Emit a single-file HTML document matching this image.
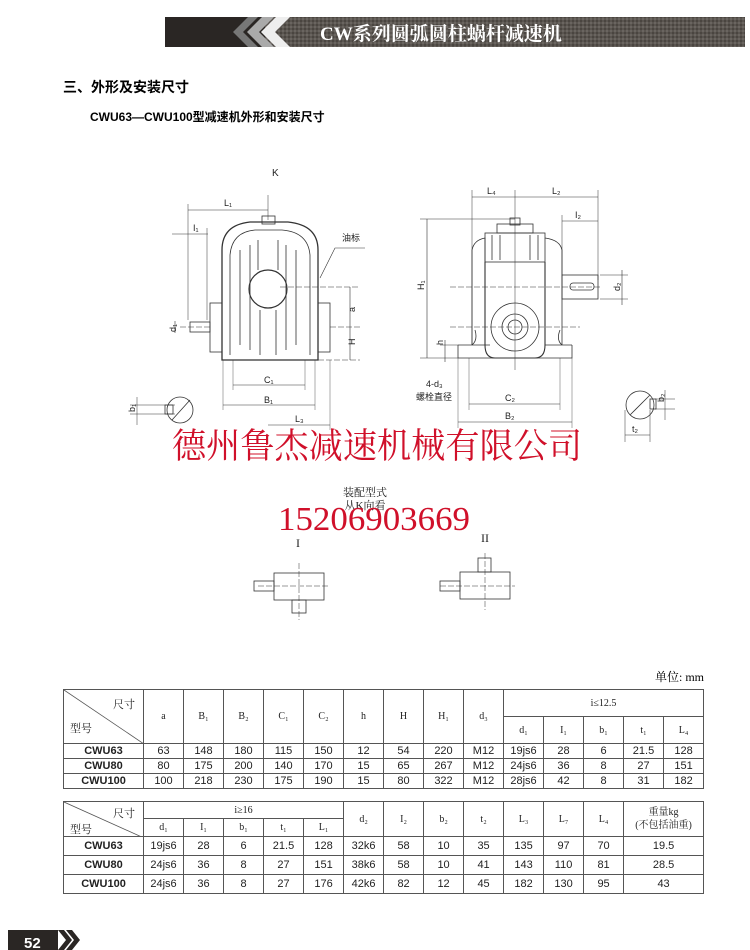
<!DOCTYPE html>
<html><head><meta charset="utf-8"><style>
body{margin:0;background:#fff;}
#p{position:relative;width:750px;height:950px;overflow:hidden;background:#fff;font-family:"Liberation Sans","Noto Sans CJK SC",sans-serif;}
.abs{position:absolute;white-space:nowrap;}
table{border-collapse:collapse;position:absolute;font-size:11px;color:#222;table-layout:fixed;}
td{border:1px solid #555;text-align:center;padding:0;overflow:hidden;white-space:nowrap;}
.s{font-family:"Liberation Serif","Noto Serif CJK SC",serif;font-size:10px;}
.b{font-weight:bold;}
</style></head><body><div id="p">
<svg width="750" height="950" style="position:absolute;left:0;top:0">
<defs><pattern id="tx" width="4" height="4" patternUnits="userSpaceOnUse"><rect width="4" height="4" fill="#5a5550"/><rect width="2" height="2" fill="#4a4540"/><rect x="2" y="2" width="2" height="2" fill="#6a6560"/></pattern></defs>
<rect x="165" y="17" width="580" height="30" fill="url(#tx)"/>
<rect x="165" y="17" width="100" height="30" fill="#2a2624"/>
<polygon points="248,17 258,17 243,32 258,47 248,47 233,32" fill="#777"/>
<polygon points="262,17 274,17 259,32 274,47 262,47 247,32" fill="#aaa"/>
<polygon points="276,17 290,17 275,32 290,47 276,47 261,32" fill="#eee"/>
<rect x="8" y="930" width="50" height="20" fill="#2a2624"/>
<polygon points="58,930 64,930 72,940 64,950 58,950 66,940" fill="#2a2624"/>
<polygon points="66,930 72,930 80,940 72,950 66,950 74,940" fill="#2a2624"/>
<g stroke="#333" stroke-width="0.8" fill="none">
<path d="M222,360 L222,250 Q222,225 250,222 L288,222 Q318,225 318,250 L318,360 Z" stroke-width="1.3"/>
<path d="M230,355 L230,255 Q232,232 255,230 L282,230 Q308,232 310,255 L310,355"/>
<rect x="262" y="216" width="13" height="8"/>
<rect x="210" y="303" width="12" height="49"/><rect x="318" y="303" width="12" height="49"/>
<rect x="190" y="322" width="20" height="10"/>
<circle cx="268" cy="289" r="19" stroke-width="1.2"/>
<path d="M240,250 V345 M250,245 V350 M258,240 V270 M278,240 V270 M286,245 V350 M296,250 V345 M260,310 V355 M276,310 V355"/>
<line x1="222" y1="360" x2="318" y2="360"/>
<path d="M188,204 V320 M207,228 V320 M268,195 V220" stroke-width="0.5"/>
<path d="M188,210 H268 M172,234 H208 M350,287 V360 M233,385 H305 M223,405 H315 M268,425 H330 M175,321 V333" stroke-width="0.6"/>
<path d="M280,287 H360 M318,360 H360 M330,327 H360 M180,327 H210" stroke-width="0.5" stroke-dasharray="6,2"/>
<path d="M233,360 V390 M305,360 V390 M223,360 V410 M315,360 V410 M330,360 V430" stroke-width="0.4"/>
<path d="M320,278 L335,248 L365,248" stroke-width="0.6"/>
<circle cx="180" cy="410" r="13"/><line x1="172" y1="420" x2="190" y2="400"/><rect x="165" y="405" width="8" height="9"/>
<path d="M137,397 V425 M130,405 H175 M130,414 H175" stroke-width="0.5"/>
<path d="M472,345 V250 Q474,240 485,238 V262 M562,345 V250 Q560,240 545,238"/>
<rect x="485" y="233" width="60" height="29"/>
<path d="M485,262 V345 Q485,358 495,358 H535 Q545,358 545,345 V262" stroke-width="1.1"/>
<rect x="497" y="224" width="36" height="9"/><rect x="510" y="218" width="10" height="7"/>
<path d="M492,235 V260 M500,235 V260 M530,235 V260 M538,235 V260"/>
<circle cx="515" cy="327" r="24"/><circle cx="515" cy="327" r="7"/><circle cx="515" cy="327" r="13"/>
<path d="M458,345 H490 M545,345 H572 M458,345 V358 H572 V345 M472,345 Q478,340 475,330 M562,345 Q556,340 560,330"/>
<rect x="562" y="275" width="36" height="24"/><rect x="570" y="283" width="24" height="7" rx="3"/>
<path d="M472,190 V345 M515,190 V370 M598,190 V280 M562,215 V275" stroke-width="0.5"/>
<path d="M472,197 H598 M562,221 H598 M427,219 V358 M445,340 V362 M622,270 V305 M469,404 H560 M458,422 H572" stroke-width="0.6"/>
<path d="M420,219 H515 M420,358 H458 M600,275 H628 M600,299 H628 M440,345 H458" stroke-width="0.5"/>
<path d="M450,287 H600 M450,327 H580" stroke-width="0.5" stroke-dasharray="6,2"/>
<path d="M469,358 V410 M560,358 V410 M458,358 V428 M572,358 V428" stroke-width="0.4"/>
<circle cx="640" cy="405" r="14"/><line x1="630" y1="415" x2="650" y2="395"/><rect x="650" y="399" width="6" height="10"/>
<path d="M665,390 V420 M655,399 H675 M655,409 H675 M625,410 V442 M650,410 V442 M625,435 H650" stroke-width="0.5"/>
<rect x="274" y="573" width="50" height="27"/><rect x="254" y="581" width="20" height="10"/><rect x="292" y="600" width="14" height="13"/>
<rect x="460" y="572" width="50" height="27"/><rect x="440" y="581" width="20" height="10"/><rect x="478" y="558" width="13" height="14"/>
<path d="M299,563 V620 M258,586 H330 M485,553 V610 M440,586 H515" stroke-width="0.5" stroke-dasharray="6,2"/>
</g>
<g font-family="Liberation Sans,sans-serif" font-size="9" fill="#222">
<text x="272" y="176" font-size="10">K</text>
<text x="224" y="206">L₁</text><text x="193" y="231">I₁</text>
<text x="342" y="241" font-family="Noto Sans CJK SC,sans-serif">油标</text>
<text x="355" y="312" transform="rotate(-90 355 312)">a</text>
<text x="355" y="345" transform="rotate(-90 355 345)">H</text>
<text x="176" y="332" transform="rotate(-90 176 332)">d₁</text>
<text x="264" y="383">C₁</text><text x="264" y="403">B₁</text><text x="295" y="422">L₃</text>
<text x="135" y="412" transform="rotate(-90 135 412)">b₁</text>
<text x="487" y="194">L₄</text><text x="552" y="194">L₂</text><text x="575" y="218">I₂</text>
<text x="424" y="290" transform="rotate(-90 424 290)">H₁</text>
<text x="443" y="345" transform="rotate(-90 443 345)">h</text>
<text x="620" y="291" transform="rotate(-90 620 291)">d₂</text>
<text x="426" y="387">4-d₃</text>
<text x="416" y="400" font-family="Noto Sans CJK SC,sans-serif">螺栓直径</text>
<text x="505" y="401">C₂</text><text x="505" y="419">B₂</text>
<text x="664" y="402" transform="rotate(-90 664 402)">b₂</text><text x="632" y="432">t₂</text>
</g>
<g font-family="Liberation Serif,Noto Serif CJK SC,serif" fill="#222">
<text x="365" y="496" font-size="11" text-anchor="middle">装配型式</text>
<text x="365" y="509" font-size="11" text-anchor="middle">从K向看</text>
<text x="298" y="547" font-size="12" text-anchor="middle">I</text>
<text x="485" y="542" font-size="12" text-anchor="middle">II</text>
</g>
<text x="320" y="40" font-family="Liberation Serif,Noto Serif CJK SC,serif" font-size="19" fill="#fff" font-weight="bold">CW系列圆弧圆柱蜗杆减速机</text>
<text x="24" y="948" font-family="Liberation Sans,sans-serif" font-size="15" fill="#fff" font-weight="bold">52</text>
<text x="172" y="458" font-family="Noto Serif CJK SC,serif" font-size="35" fill="#d0102a" textLength="410" lengthAdjust="spacingAndGlyphs">德州鲁杰减速机械有限公司</text>
<text x="278" y="530" font-family="Liberation Serif,serif" font-size="34" fill="#d0102a" textLength="192" lengthAdjust="spacingAndGlyphs">15206903669</text>
</svg>
<div class="abs b" style="left:63px;top:77px;font-size:14px;font-family:'Liberation Sans','Noto Sans CJK SC',sans-serif">三、外形及安装尺寸</div>
<div class="abs b" style="left:90px;top:108px;font-size:12px;font-family:'Liberation Sans','Noto Sans CJK SC',sans-serif">CWU63—CWU100型减速机外形和安装尺寸</div>
<div class="abs s" style="left:655px;top:668px;font-size:12px">单位: mm</div>
<table style="left:63px;top:689px;width:640px;">
<colgroup><col style="width:80px"><col span="14" style="width:40px"></colgroup>
<tr style="height:27px"><td rowspan="2" style="position:relative"><svg width="80" height="54" style="position:absolute;left:0;top:0"><line x1="0" y1="0" x2="80" y2="54" stroke="#555" stroke-width="0.8"/></svg><span class="s" style="position:absolute;right:8px;top:6px;font-size:11px">尺寸</span><span class="s" style="position:absolute;left:6px;top:30px;font-size:11px">型号</span></td>
<td rowspan="2" class="s">a</td><td rowspan="2" class="s">B₁</td><td rowspan="2" class="s">B₂</td><td rowspan="2" class="s">C₁</td><td rowspan="2" class="s">C₂</td><td rowspan="2" class="s">h</td><td rowspan="2" class="s">H</td><td rowspan="2" class="s">H₁</td><td rowspan="2" class="s">d₃</td><td colspan="5" class="s">i≤12.5</td></tr>
<tr style="height:27px"><td class="s">d₁</td><td class="s">I₁</td><td class="s">b₁</td><td class="s">t₁</td><td class="s">L₄</td></tr>
<tr style="height:15px"><td class="b">CWU63</td><td>63</td><td>148</td><td>180</td><td>115</td><td>150</td><td>12</td><td>54</td><td>220</td><td>M12</td><td>19js6</td><td>28</td><td>6</td><td>21.5</td><td>128</td></tr>
<tr style="height:15px"><td class="b">CWU80</td><td>80</td><td>175</td><td>200</td><td>140</td><td>170</td><td>15</td><td>65</td><td>267</td><td>M12</td><td>24js6</td><td>36</td><td>8</td><td>27</td><td>151</td></tr>
<tr style="height:15px"><td class="b">CWU100</td><td>100</td><td>218</td><td>230</td><td>175</td><td>190</td><td>15</td><td>80</td><td>322</td><td>M12</td><td>28js6</td><td>42</td><td>8</td><td>31</td><td>182</td></tr>
</table>
<table style="left:63px;top:801px;width:640px;">
<colgroup><col style="width:80px"><col span="12" style="width:40px"><col style="width:80px"></colgroup>
<tr style="height:17px"><td rowspan="2" style="position:relative"><svg width="80" height="36" style="position:absolute;left:0;top:0"><line x1="0" y1="0" x2="80" y2="36" stroke="#555" stroke-width="0.8"/></svg><span class="s" style="position:absolute;right:8px;top:3px;font-size:11px">尺寸</span><span class="s" style="position:absolute;left:6px;top:19px;font-size:11px">型号</span></td>
<td colspan="5" class="s">i≥16</td><td rowspan="2" class="s">d₂</td><td rowspan="2" class="s">I₂</td><td rowspan="2" class="s">b₂</td><td rowspan="2" class="s">t₂</td><td rowspan="2" class="s">L₃</td><td rowspan="2" class="s">L₇</td><td rowspan="2" class="s">L₄</td><td rowspan="2" class="s" style="line-height:13px">重量kg<br>(不包括油重)</td></tr>
<tr style="height:18px"><td class="s">d₁</td><td class="s">I₁</td><td class="s">b₁</td><td class="s">t₁</td><td class="s">L₁</td></tr>
<tr style="height:19px"><td class="b">CWU63</td><td>19js6</td><td>28</td><td>6</td><td>21.5</td><td>128</td><td>32k6</td><td>58</td><td>10</td><td>35</td><td>135</td><td>97</td><td>70</td><td>19.5</td></tr>
<tr style="height:19px"><td class="b">CWU80</td><td>24js6</td><td>36</td><td>8</td><td>27</td><td>151</td><td>38k6</td><td>58</td><td>10</td><td>41</td><td>143</td><td>110</td><td>81</td><td>28.5</td></tr>
<tr style="height:19px"><td class="b">CWU100</td><td>24js6</td><td>36</td><td>8</td><td>27</td><td>176</td><td>42k6</td><td>82</td><td>12</td><td>45</td><td>182</td><td>130</td><td>95</td><td>43</td></tr>
</table>
</div></body></html>
